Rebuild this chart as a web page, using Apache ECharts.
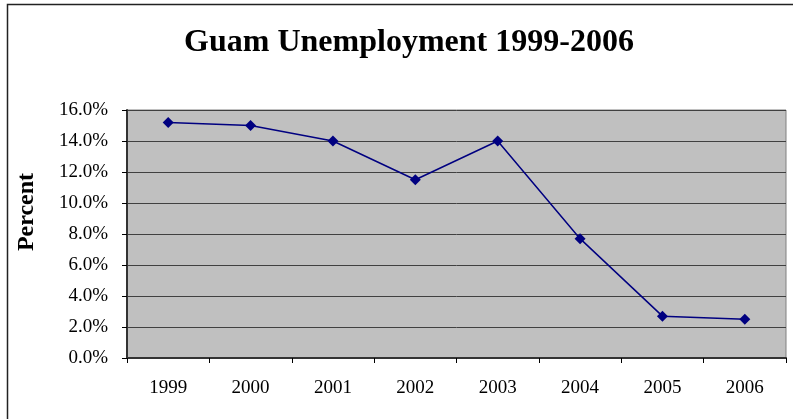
<!DOCTYPE html>
<html>
<head>
<meta charset="utf-8">
<script src="https://cdn.jsdelivr.net/npm/echarts@6/dist/echarts.min.js"></script>
<style>
  html, body { margin: 0; padding: 0; background: #fff; }
  #chart { width: 793px; height: 419px; }
</style>
</head>
<body>
<div id="chart"></div>
<script>
// years on the x axis
const years = ["1999", "2000", "2001", "2002", "2003", "2004", "2005", "2006"];
// unemployment rate, percent
const unemployment = [15.2, 15.0, 14.0, 11.5, 14.0, 7.7, 2.7, 2.5];

const serif = "'Liberation Serif', 'DejaVu Serif', serif";

let myChart = echarts.init(document.getElementById("chart"));
myChart.setOption({
  animation: false,
  title: {
    text: "Guam Unemployment 1999-2006",
    left: 404,
    textAlign: "center",
    top: 22,
    textStyle: { fontFamily: serif, fontSize: 32, fontWeight: "bold", color: "#000" }
  },
  graphic: [
    {
      type: "rect",
      shape: { x: 7.5, y: 4.5, width: 800, height: 430 },
      style: { fill: null, stroke: "#222", lineWidth: 1.5 },
      silent: true
    },
    {
      type: "text",
      x: 27,
      y: 212,
      rotation: Math.PI / 2,
      style: {
        text: "Percent",
        font: "bold 24px " + serif,
        fill: "#000",
        align: "center",
        verticalAlign: "middle"
      }
    }
  ],
  grid: {
    left: 127,
    right: 7,
    top: 110,
    bottom: 61,
    show: true,
    backgroundColor: "#c0c0c0",
    borderColor: "#808080",
    borderWidth: 1
  },
  xAxis: {
    type: "category",
    data: years,
    boundaryGap: true,
    axisLine: { lineStyle: { color: "#333", width: 2 } },
    axisTick: { show: true, length: 5, alignWithLabel: false, lineStyle: { color: "#000" } },
    axisLabel: { fontFamily: serif, fontSize: 19, color: "#000", margin: 21 }
  },
  yAxis: {
    type: "value",
    min: 0,
    max: 16,
    interval: 2,
    axisLine: { show: true, lineStyle: { color: "#333", width: 2 } },
    axisTick: { show: true, length: 5, lineStyle: { color: "#000" } },
    axisLabel: {
      fontFamily: serif,
      fontSize: 19,
      color: "#000",
      margin: 19,
      formatter: v => v.toFixed(1) + "%"
    },
    splitLine: { lineStyle: { color: "#404040", width: 1 } }
  },
  series: [
    {
      name: "Unemployment",
      type: "line",
      data: unemployment,
      symbol: "diamond",
      symbolSize: 11,
      itemStyle: { color: "#000080" },
      lineStyle: { color: "#000080", width: 1.5 }
    }
  ]
});
</script>
</body>
</html>
